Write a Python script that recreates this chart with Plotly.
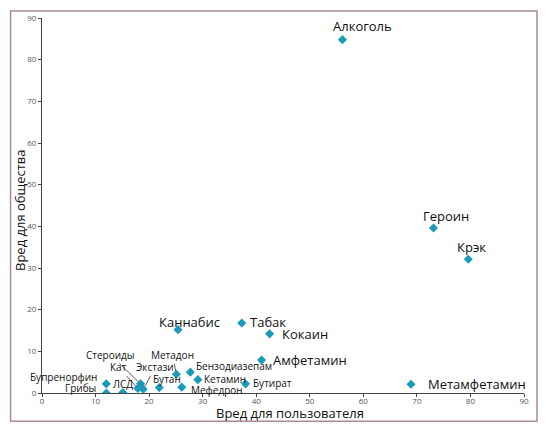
import plotly.graph_objects as go

# Data
names = ["Алкоголь", "Героин", "Крэк", "Метамфетамин", "Каннабис", "Табак",
         "Кокаин", "Амфетамин", "Бутират", "Кетамин", "Бензодиазепам",
         "Метадон", "Мефедрон", "Бутан", "Экстази", "Стероиды", "Кат",
         "ЛСД", "Грибы", "Бупренорфин"]
harm_user = [56.1, 73.1, 79.6, 68.9, 25.4, 37.3, 42.5, 41.0, 38.0, 29.1, 27.7,
             25.1, 26.1, 21.9, 18.9, 18.4, 17.9, 15.1, 12.0, 12.0]
harm_society = [84.8, 39.6, 32.1, 2.1, 15.2, 16.8, 14.2, 7.9, 2.2, 3.2, 5.0,
                4.5, 1.4, 1.3, 0.9, 2.2, 1.1, 0.1, 0.0, 2.2]
x_ticks = [0, 10, 20, 30, 40, 50, 60, 70, 80, 90]
y_ticks = [0, 10, 20, 30, 40, 50, 60, 70, 80, 90]
x_title = "Вред для пользователя"
y_title = "Вред для общества"

# Label placement (style): anchor, dx, dy (pixels; dy down positive)
big = {"Алкоголь", "Героин", "Крэк", "Метамфетамин", "Каннабис", "Табак",
       "Кокаин", "Амфетамин"}
label_pos = {
    "Алкоголь": ("left", -11, -14),
    "Героин": ("left", -12, -12),
    "Крэк": ("left", -13, -12),
    "Метамфетамин": ("left", 15, 0),
    "Каннабис": ("left", -21, -8),
    "Табак": ("left", 6, -1),
    "Кокаин": ("left", 10, 0),
    "Амфетамин": ("left", 9, 0),
    "Бутират": ("left", 5, -1),
    "Кетамин": ("left", 4, -1),
    "Бензодиазепам": ("left", 4, -6),
    "Мефедрон": ("left", 7, 3),
    "Бутан": ("left", -8, -9),
    "ЛСД": ("left", -12, -9),
    "Грибы": ("right", -8, -5),
    "Бупренорфин": ("right", -7, -7),
}
arrow_pos = {
    "Стероиды": (-30, -29),
    "Кат": (-19, -21),
    "Экстази": (12, -22),
    "Метадон": (-4, -19),
}

FONT = "Open Sans"
teal = "#1b9bb9"

fig = go.Figure()
fig.add_trace(go.Scatter(
    x=harm_user, y=harm_society, mode="markers", text=names,
    marker=dict(symbol="diamond", size=7, color=teal, line=dict(width=0)),
    hoverinfo="text+x+y", showlegend=False,
))

annotations = []
for n, xv, yv in zip(names, harm_user, harm_society):
    size = 13 if n in big else 10
    if n in arrow_pos:
        ax, ay = arrow_pos[n]
        annotations.append(dict(
            x=xv, y=yv, xref="x", yref="y", text=n, showarrow=True,
            arrowhead=0, arrowwidth=0.8, arrowcolor="#333", ax=ax, ay=ay,
            standoff=3, font=dict(family=FONT, size=size, color="#111"),
        ))
    else:
        anchor, dx, dy = label_pos[n]
        annotations.append(dict(
            x=xv, y=yv, xref="x", yref="y", text=n, showarrow=False,
            xanchor=anchor, yanchor="middle", xshift=dx, yshift=-dy,
            font=dict(family=FONT, size=size, color="#111"),
        ))

# axis titles as annotations for precise placement
annotations.append(dict(
    x=(290.5 - 41.5) / 483, y=(393 - 413) / 377, xref="paper", yref="paper",
    text=x_title, showarrow=False, xanchor="center", yanchor="middle",
    borderpad=0, font=dict(family=FONT, size=13, color="#111"),
))
annotations.append(dict(
    x=(20 - 41.5) / 483, y=(393 - 209.5) / 377, xref="paper", yref="paper",
    text=y_title, showarrow=False, xanchor="center", yanchor="middle",
    textangle=-90, font=dict(family=FONT, size=13, color="#111"),
))

fig.update_layout(
    width=551, height=432,
    margin=dict(l=41.5, r=26.5, t=16, b=39),
    paper_bgcolor="white", plot_bgcolor="white",
    annotations=annotations,
    font=dict(family=FONT),
    shapes=[dict(
        type="rect", xref="paper", yref="paper",
        x0=(10 - 41.5) / 483, x1=(537.5 - 41.5) / 483,
        y0=(393 - 421.5) / 377, y1=(393 - 9) / 377,
        line=dict(color="#a98b9c", width=1.5), fillcolor="rgba(0,0,0,0)",
        layer="below",
    )],
)
axis_style = dict(
    range=[0, 90], showgrid=False, zeroline=False,
    showline=True, linecolor="#444", linewidth=1, ticks="outside",
    ticklen=3, tickcolor="#444", tickfont=dict(size=8, color="#555"),
)
fig.update_xaxes(tickvals=x_ticks, ticklabelstandoff=-3, **axis_style)
fig.update_yaxes(tickvals=y_ticks, **axis_style)

fig.write_html("out.html")
